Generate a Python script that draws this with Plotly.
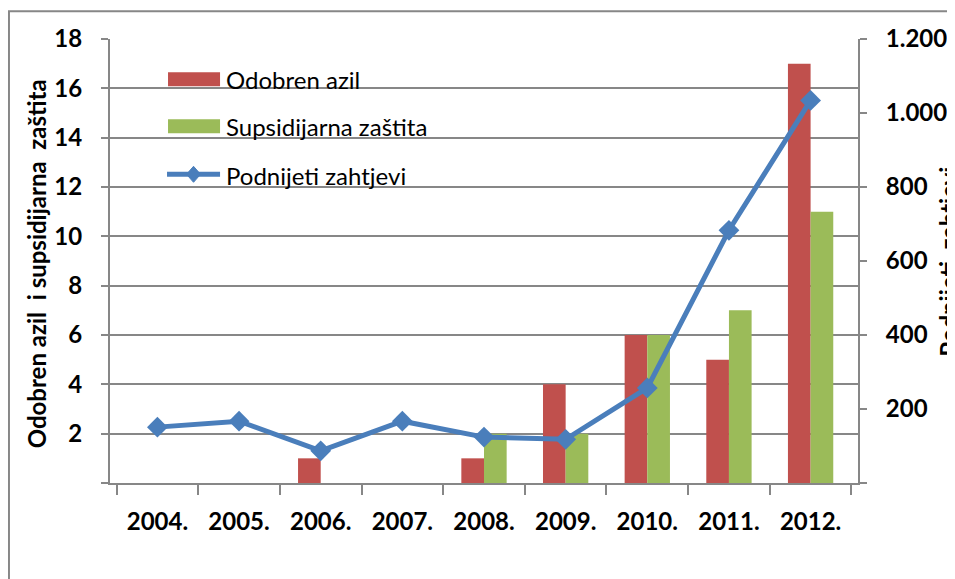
import plotly.graph_objects as go

years = ["2004.", "2005.", "2006.", "2007.", "2008.", "2009.", "2010.", "2011.", "2012."]
odobren_azil = [0, 0, 1, 0, 1, 4, 6, 5, 17]
supsidijarna = [0, 0, 0, 0, 2, 2, 6, 7, 11]
zahtjevi = [151, 167, 87, 167, 124, 118, 257, 683, 1034]

left_tickvals = [0, 2, 4, 6, 8, 10, 12, 14, 16, 18]
left_ticktext = ["", "2", "4", "6", "8", "10", "12", "14", "16", "18"]
right_tickvals = [0, 200, 400, 600, 800, 1000, 1200]
right_ticktext = ["", "200", "400", "600", "800", "1.000", "1.200"]

RED = "#C0504D"
GREEN = "#9BBB59"
BLUE = "#4A7EBB"
GRID = "#878787"
FONT = "Lato"

W, H = 955, 579
OFF = 8  # default page body margin
L, R, T, B = 110 - OFF, 857.7 - OFF, 38.7 - OFF, 482.7 - OFF


def px(x):
    return (x - OFF - L) / (R - L)


def py(y):
    return (B - (y - OFF)) / (B - T)


fig = go.Figure()
fig.add_trace(go.Bar(x=years, y=odobren_azil, name="Odobren azil", marker_color=RED,
                     marker_line_width=0, showlegend=False))
fig.add_trace(go.Bar(x=years, y=supsidijarna, name="Supsidijarna zaštita", marker_color=GREEN,
                     marker_line_width=0, showlegend=False))
fig.add_trace(go.Scatter(x=years, y=zahtjevi, name="Podnijeti zahtjevi", yaxis="y2",
                         mode="lines+markers", line=dict(color=BLUE, width=5),
                         marker=dict(symbol="diamond", size=16, color=BLUE),
                         showlegend=False))

tickfont = dict(family=FONT, size=24, color="black", weight="bold")

fig.update_layout(
    width=W, height=H,
    margin=dict(l=L, r=W - R, t=T, b=H - B, pad=0, autoexpand=False),
    paper_bgcolor="white", plot_bgcolor="white",
    barmode="group", bargap=0.445, bargroupgap=0,
    showlegend=False,
    xaxis=dict(type="category", showline=True, linecolor=GRID, linewidth=2, automargin=False,
               ticks="outside", tickson="boundaries", ticklen=10, tickwidth=2, tickcolor=GRID,
               tickfont=tickfont, ticklabelstandoff=16, showgrid=False, zeroline=False),
    yaxis=dict(range=[0, 18], tickvals=left_tickvals, ticktext=left_ticktext, automargin=False,
               showline=True, linecolor=GRID, linewidth=2,
               ticks="outside", ticklen=7, tickwidth=2, tickcolor=GRID,
               showgrid=True, gridcolor=GRID, gridwidth=2, zeroline=False,
               tickfont=tickfont, ticklabelstandoff=14),
    yaxis2=dict(range=[0, 1200], tickvals=right_tickvals, ticktext=right_ticktext, automargin=False,
                overlaying="y", side="right", showline=True, linecolor=GRID, linewidth=2,
                ticks="outside", ticklen=7, tickwidth=2, tickcolor=GRID,
                showgrid=False, zeroline=False, tickfont=tickfont, ticklabelstandoff=14),
)

shapes = []
annotations = []

# outer chart border
shapes.append(dict(type="rect", xref="paper", yref="paper",
                   x0=px(9), x1=px(990), y0=py(11), y1=py(620),
                   line=dict(color=GRID, width=2), fillcolor="rgba(0,0,0,0)", layer="below"))

# legend
legend_font = dict(family=FONT, size=24, color="black")
shapes.append(dict(type="rect", xref="paper", yref="paper", x0=px(168), x1=px(220),
                   y0=py(86), y1=py(72), fillcolor=RED, line=dict(width=0)))
shapes.append(dict(type="rect", xref="paper", yref="paper", x0=px(168), x1=px(220),
                   y0=py(133), y1=py(119), fillcolor=GREEN, line=dict(width=0)))
shapes.append(dict(type="line", xref="paper", yref="paper", x0=px(167), x1=px(220),
                   y0=py(174), y1=py(174), line=dict(color=BLUE, width=5)))
cx, cy, hw, hh = 193.5, 174, 7, 8
path = "M {} {} L {} {} L {} {} L {} {} Z".format(
    px(cx), py(cy - hh), px(cx + hw), py(cy), px(cx), py(cy + hh), px(cx - hw), py(cy))
shapes.append(dict(type="path", xref="paper", yref="paper", path=path,
                   fillcolor=BLUE, line=dict(color=BLUE, width=1)))
for name, yc in [("Odobren azil", 79), ("Supsidijarna zaštita", 126), ("Podnijeti zahtjevi", 175)]:
    annotations.append(dict(text=name, xref="paper", yref="paper", x=px(224), y=py(yc),
                            xanchor="left", yanchor="middle", showarrow=False, font=legend_font))

title_font = dict(family=FONT, size=24, color="black", weight="bold")
annotations.append(dict(text="Odobren azil\u00a0 i supsidijarna\u00a0 zaštita", xref="paper", yref="paper",
                        x=px(36), y=py(263), textangle=-90, xanchor="center", yanchor="middle",
                        showarrow=False, font=title_font))
annotations.append(dict(text="Podnijeti\u00a0 zahtjevi", xref="paper", yref="paper",
                        x=px(948), y=py(261), textangle=-90, xanchor="center", yanchor="middle",
                        showarrow=False, font=title_font))

fig.update_layout(shapes=shapes, annotations=annotations)
fig.write_html("out.html")
